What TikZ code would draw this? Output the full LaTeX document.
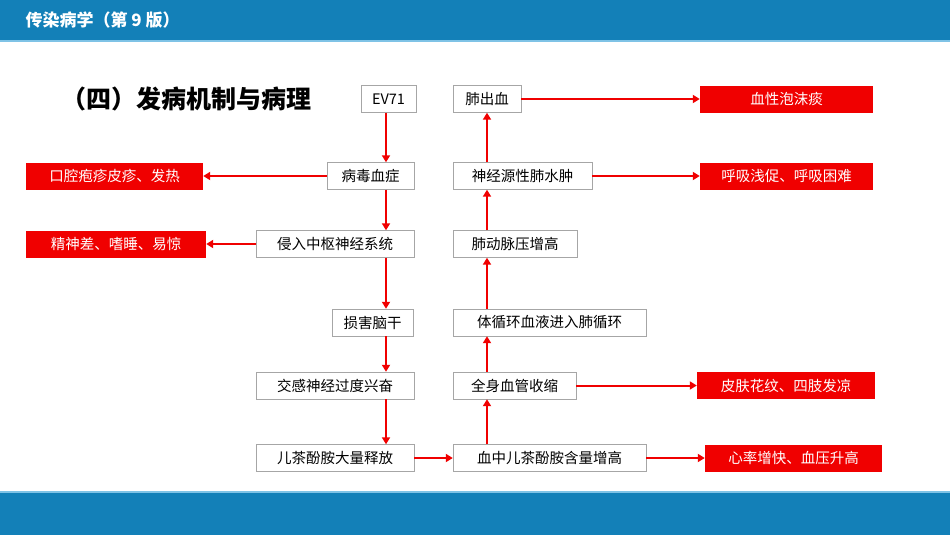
\documentclass[tikz,border=0pt]{standalone}
\usepackage{fontspec}
\setmainfont{Noto Sans CJK SC}
\usetikzlibrary{arrows.meta}
\definecolor{bar}{HTML}{1380B8}
\definecolor{barl}{HTML}{7FC3E6}
\definecolor{rd}{HTML}{F00000}
\begin{document}
\begin{tikzpicture}[x=1pt,y=-1pt,
  bx/.style={draw=black!35,fill=white,minimum height=27pt,inner xsep=5pt,inner ysep=0pt,font=\fontsize{14.5}{16}\selectfont,anchor=center},
  rb/.style={fill=rd,text=white,minimum height=27pt,inner sep=0pt,font=\fontsize{14.5}{16}\selectfont},
  ar/.style={draw=rd,line width=2pt,-{Triangle[length=7pt,width=8pt]}}]
\useasboundingbox (0,0) rectangle (950,535);
\fill[bar] (0,0) rectangle (950,40);
\fill[barl] (0,40) rectangle (950,42);
\fill[barl] (0,491) rectangle (950,493);
\fill[bar] (0,493) rectangle (950,535);
\node[anchor=west,text=white,font=\fontsize{17}{20}\selectfont\bfseries] (hd) at (22,20) {传染病学（第 9 版）};
\node[anchor=west,font=\fontsize{25}{28}\selectfont\bfseries] (tt) at (58,99) {（四）发病机制与病理};
% left column
\node[bx,minimum width=55pt] (a1) at (388.5,99) {EV71};
\node[bx,minimum width=87pt] (a2) at (370.5,176) {病毒血症};
\node[bx,minimum width=158pt] (a3) at (335,244) {侵入中枢神经系统};
\node[bx,minimum width=81pt] (a4) at (372.5,322.5) {损害脑干};
\node[bx,minimum width=158pt] (a5) at (335,385.5) {交感神经过度兴奋};
\node[bx,minimum width=158pt] (a6) at (335,458) {儿茶酚胺大量释放};
% right column
\node[bx,minimum width=193pt] (b1) at (549.5,458) {血中儿茶酚胺含量增高};
\node[bx,minimum width=123pt] (b2) at (514.5,385.5) {全身血管收缩};
\node[bx,minimum width=193pt] (b3) at (549.5,322.5) {体循环血液进入肺循环};
\node[bx,minimum width=124pt] (b4) at (515,244) {肺动脉压增高};
\node[bx,minimum width=139pt] (b5) at (522.5,176) {神经源性肺水肿};
\node[bx,minimum width=68pt] (b6) at (487,99) {肺出血};
% red boxes
\node[rb,minimum width=173pt] (r1) at (786.5,99) {血性泡沫痰};
\node[rb,minimum width=173pt] (r2) at (786.5,176) {呼吸浅促、呼吸困难};
\node[rb,minimum width=178pt] (r3) at (786,385.5) {皮肤花纹、四肢发凉};
\node[rb,minimum width=177pt] (r4) at (793.5,458) {心率增快、血压升高};
\node[rb,minimum width=177pt] (l1) at (114.5,176) {口腔疱疹皮疹、发热};
\node[rb,minimum width=180pt] (l2) at (116,244) {精神差、嗜睡、易惊};
% arrows
\foreach \s/\t in {a1/a2,a2/a3,a3/a4,a4/a5,a5/a6}
  \draw[ar] (\s.south -| 386,0) -- (\t.north -| 386,0);
\foreach \s/\t in {b1/b2,b2/b3,b3/b4,b4/b5,b5/b6}
  \draw[ar] (\s.north -| 487,0) -- (\t.south -| 487,0);
\draw[ar] (a6) -- (b1);
\draw[ar] (a2) -- (l1);
\draw[ar] (a3) -- (l2);
\draw[ar] (b6) -- (r1);
\draw[ar] (b5) -- (r2);
\draw[ar] (b2) -- (r3);
\draw[ar] (b1) -- (r4);
\end{tikzpicture}
\end{document}
